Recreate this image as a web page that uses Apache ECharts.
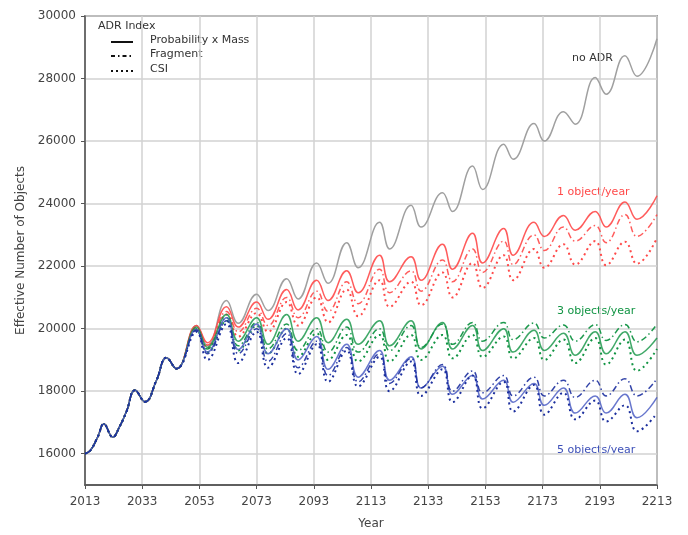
<!DOCTYPE html>
<html>
<head>
<meta charset="utf-8">
<script src="https://cdn.jsdelivr.net/npm/echarts@6/dist/echarts.min.js"></script>
<style>
  html, body { margin: 0; padding: 0; background: #fff; }
  #chart { width: 688px; height: 535px; }
</style>
</head>
<body>
<div id="chart"></div>
<script>
// Solar-cycle turning points (peaks / troughs) shared by every scenario
const keyYears = [2013, 2015, 2017.5, 2019.6, 2022.7, 2025, 2027.5, 2030.5, 2034, 2038, 2041.5, 2045,
  2052, 2055.8, 2062.5, 2066.6, 2073, 2077, 2083.5, 2087.5, 2094, 2098, 2104.5, 2108.5,
  2116, 2119.5, 2127, 2130.5, 2138, 2141.5, 2148.5, 2152, 2159.4, 2162.7, 2170, 2173.6,
  2180.3, 2184.4, 2191.4, 2195.2, 2201.8, 2206, 2213];

// Common history before removal starts
const history = [16000, 16120, 16550, 16950, 16530, 16850, 17350, 18030, 17660, 18350, 19070, 18720];

const noAdr = [20100, 19450, 20900, 20170, 21100, 20580, 21600, 20950, 22100, 21450, 22750, 21950,
  23400, 22550, 23950, 23250, 24350, 23750, 25200, 24450, 25900, 25420, 26560, 26000,
  26940, 26540, 28030, 27500, 28730, 28070, 29270];

const one_pm = [20100, 19550, 20700, 20050, 20850, 20300, 21250, 20600, 21550, 20900, 21850, 21150,
  22350, 21500, 22300, 21550, 22700, 21900, 23050, 22100, 23200, 22350, 23400, 22950,
  23620, 23150, 23750, 23250, 24050, 23500, 24250];
const one_frag = [20050, 19480, 20550, 19900, 20650, 20100, 21000, 20350, 21200, 20550, 21500, 20800,
  21900, 21150, 21850, 21200, 22200, 21500, 22550, 21800, 22800, 22050, 23000, 22500,
  23250, 22800, 23300, 22750, 23650, 22950, 23650];
const one_csi = [20000, 19380, 20450, 19750, 20500, 19900, 20850, 20100, 21000, 20200, 21250, 20400,
  21550, 20700, 21500, 20750, 21800, 21000, 22100, 21300, 22350, 21550, 22550, 21950,
  22700, 22050, 22800, 22030, 22780, 22080, 22900];

const three_pm = [20050, 19400, 20450, 19600, 20350, 19500, 20450, 19600, 20350, 19550, 20300, 19500,
  20250, 19450, 20250, 19350, 20200, 19350, 20100, 19300, 20000, 19250, 19950, 19300,
  19850, 19150, 19900, 19200, 19900, 19150, 19700];
const three_frag = [20000, 19350, 20350, 19450, 20200, 19350, 20150, 19300, 20000, 19250, 20050, 19250,
  20000, 19300, 20100, 19400, 20150, 19500, 20200, 19600, 20200, 19650, 20180, 19700,
  20120, 19600, 20130, 19620, 20130, 19580, 20150];
const three_csi = [19950, 19250, 20250, 19300, 20100, 19200, 20000, 19100, 19850, 19000, 19800, 18950,
  19800, 18950, 19800, 19000, 19800, 19050, 19800, 19100, 19750, 19050, 19700, 19000,
  19650, 18900, 19700, 18850, 19650, 18650, 19350];

const five_pm = [19980, 19250, 20350, 19330, 20150, 19200, 20000, 19000, 19750, 18700, 19500, 18450,
  19300, 18350, 19100, 18100, 18800, 17900, 18500, 17750, 18350, 17650, 18250, 17550,
  18100, 17300, 17850, 17300, 17900, 17150, 17800];
const five_frag = [19950, 19200, 20250, 19200, 20000, 18950, 19850, 18750, 19600, 18500, 19400, 18300,
  19200, 18250, 19050, 18100, 18850, 18000, 18650, 17950, 18500, 17850, 18450, 17850,
  18350, 17800, 18350, 17850, 18400, 17850, 18400];
const five_csi = [19900, 19000, 20150, 18900, 19900, 18750, 19700, 18550, 19500, 18300, 19300, 18150,
  19100, 18000, 18950, 17850, 18700, 17650, 18500, 17450, 18300, 17350, 18200, 17250,
  17950, 17100, 17700, 17030, 17550, 16720, 17300];

const xTicks = [2013, 2033, 2053, 2073, 2093, 2113, 2133, 2153, 2173, 2193, 2213];
const yTicks = [16000, 18000, 20000, 22000, 24000, 26000, 28000, 30000];

const FONT = 'DejaVu Sans';
const RED = '#ff4a4a', GREEN = '#119443', BLUE_DARK = '#1c2f9e', BLUE_LIGHT = '#4d5fc4', GRAY = '#a0a0a0';
const DASHDOT = [6, 3, 1.5, 3];
const DOTS = [2, 3.5];

function toPoints(values) {
  const full = history.concat(values);
  return keyYears.map((yr, i) => [yr, full[i]]);
}

function line(name, values, color, type, width, opacity) {
  return {
    name: name,
    type: 'line',
    data: toPoints(values),
    showSymbol: false,
    smooth: 0.45,
    lineStyle: { color: color, width: width, type: type, opacity: opacity },
    z: 3
  };
}

const series = [
  line('no ADR', noAdr, GRAY, 'solid', 1.5, 1),
  line('1/yr Probability x Mass', one_pm, RED, 'solid', 1.5, 0.9),
  line('1/yr Fragment', one_frag, RED, DASHDOT, 1.5, 0.9),
  line('1/yr CSI', one_csi, RED, DOTS, 2, 1),
  line('3/yr Probability x Mass', three_pm, GREEN, 'solid', 1.5, 0.8),
  line('3/yr Fragment', three_frag, GREEN, DASHDOT, 1.5, 0.95),
  line('3/yr CSI', three_csi, GREEN, DOTS, 2, 1),
  line('5/yr Probability x Mass', five_pm, BLUE_LIGHT, 'solid', 1.5, 0.85),
  line('5/yr Fragment', five_frag, BLUE_DARK, DASHDOT, 1.5, 0.9),
  line('5/yr CSI', five_csi, BLUE_DARK, DOTS, 2, 1)
];

const chart = echarts.init(document.getElementById('chart'), null, { renderer: 'canvas' });

const legendY = [42, 56, 71];
const legendNames = ['Probability x Mass', 'Fragment', 'CSI'];
const legendTypes = [null, [4, 3, 1.5, 3], [2, 3]];
const legendGraphics = [{
  type: 'text', left: 98, top: 21,
  style: { text: 'ADR Index', font: '11px ' + FONT, fill: '#333' }
}];
legendNames.forEach((nm, i) => {
  legendGraphics.push({
    type: 'line',
    shape: { x1: 111, y1: legendY[i], x2: 133, y2: legendY[i] },
    style: { stroke: '#111', lineWidth: 2, lineDash: legendTypes[i] }
  });
  legendGraphics.push({
    type: 'text', left: 150, top: legendY[i] - 7,
    style: { text: nm, font: '11px ' + FONT, fill: '#333' }
  });
});

const labelGraphics = [
  { type: 'text', left: 572, top: 53, style: { text: 'no ADR', font: '11px ' + FONT, fill: '#333' } },
  { type: 'text', left: 557, top: 187, style: { text: '1 object/year', font: '11px ' + FONT, fill: RED } },
  { type: 'text', left: 557, top: 306, style: { text: '3 objects/year', font: '11px ' + FONT, fill: GREEN } },
  { type: 'text', left: 557, top: 445, style: { text: '5 objects/year', font: '11px ' + FONT, fill: '#3d50b8' } }
];

const plain = v => String(Math.round(v));

chart.setOption({
  animation: false,
  backgroundColor: '#fff',
  grid: {
    left: 85, right: 31, top: 16, bottom: 41,
    show: true, borderColor: '#555', borderWidth: 1.5, backgroundColor: 'transparent'
  },
  xAxis: {
    type: 'value', min: 2013, max: 2213,
    name: 'Year', nameLocation: 'middle', nameGap: 33,
    nameTextStyle: { fontFamily: FONT, fontSize: 12, color: '#444' },
    axisLine: { show: true, lineStyle: { color: '#555', width: 1.5 } },
    axisTick: { show: true, length: 4, lineStyle: { color: '#555' }, customValues: xTicks },
    axisLabel: { customValues: xTicks, formatter: plain, fontFamily: FONT, fontSize: 12, color: '#444', margin: 11 },
    splitLine: { show: true, lineStyle: { color: '#d2d2d2', width: 1.5 } }
  },
  yAxis: {
    type: 'value', min: 15000, max: 30000,
    name: 'Effective Number of Objects', nameLocation: 'middle', nameGap: 57,
    nameTextStyle: { fontFamily: FONT, fontSize: 12, color: '#444' },
    axisLine: { show: true, lineStyle: { color: '#555', width: 1.5 } },
    axisTick: { show: true, length: 4, lineStyle: { color: '#555' }, customValues: yTicks },
    axisLabel: { customValues: yTicks, formatter: plain, fontFamily: FONT, fontSize: 12, color: '#444', margin: 9 },
    splitLine: { show: true, lineStyle: { color: '#d2d2d2', width: 1.5 } }
  },
  graphic: legendGraphics.concat(labelGraphics),
  series: series
});
</script>
</body>
</html>
